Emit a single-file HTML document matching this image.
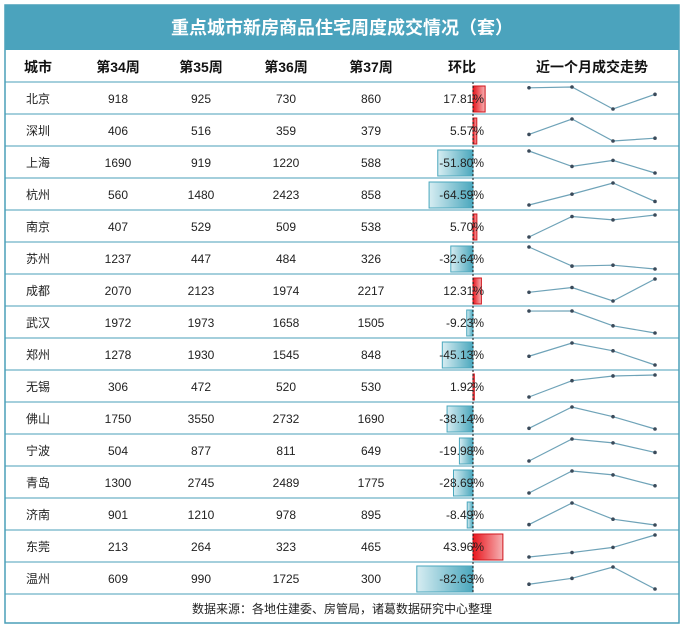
<!DOCTYPE html>
<html><head><meta charset="utf-8">
<style>
body{margin:0;width:685px;height:628px;background:#fff;font-family:"Liberation Sans","Noto Sans CJK SC",sans-serif;}
svg text{font-family:"Liberation Sans","Noto Sans CJK SC",sans-serif;}
</style></head>
<body>
<svg id="c" width="685" height="628" xmlns="http://www.w3.org/2000/svg">
<defs>
<linearGradient id="gr" x1="0" x2="1"><stop offset="0" stop-color="#e8151c"/><stop offset="1" stop-color="#f6b3b5"/></linearGradient>
<linearGradient id="gb" x1="1" x2="0"><stop offset="0" stop-color="#4aa7bd"/><stop offset="1" stop-color="#d7edf2"/></linearGradient>
</defs>
<rect x="5" y="5" width="674" height="618" fill="#fff" stroke="#4a9fb8" stroke-width="1.5"/>
<rect x="5" y="5" width="674" height="45" fill="#4ba3bd"/>
<text x="342" y="34" text-anchor="middle" fill="#fff" font-size="18" font-weight="bold">重点城市新房商品住宅周度成交情况（套）</text>
<g id="hdr" font-size="14" font-weight="bold" fill="#111" text-anchor="middle"></g>
<g id="rows"></g>
<text x="342" y="613" text-anchor="middle" font-size="12" fill="#222">数据来源：各地住建委、房管局，诸葛数据研究中心整理</text>
</svg>
<script>
const cities=["北京","深圳","上海","杭州","南京","苏州","成都","武汉","郑州","无锡","佛山","宁波","青岛","济南","东莞","温州"];
const w34=[918,406,1690,560,407,1237,2070,1972,1278,306,1750,504,1300,901,213,609];
const w35=[925,516,919,1480,529,447,2123,1973,1930,472,3550,877,2745,1210,264,990];
const w36=[730,359,1220,2423,509,484,1974,1658,1545,520,2732,811,2489,978,323,1725];
const w37=[860,379,588,858,538,326,2217,1505,848,530,1690,649,1775,895,465,300];
const changes=[17.81,5.57,-51.80,-64.59,5.70,-32.64,12.31,-9.23,-45.13,1.92,-38.14,-19.98,-28.69,-8.49,43.96,-82.63];
const headers=["城市","第34周","第35周","第36周","第37周","环比","近一个月成交走势"];
const NS="http://www.w3.org/2000/svg";
function mk(t,a,p){const e=document.createElementNS(NS,t);for(const k in a)e.setAttribute(k,a[k]);p.appendChild(e);return e;}
const hx=[38,118,201,286,371,462,592];
const hdr=document.getElementById('hdr');
headers.forEach((h,i)=>{const t=mk('text',{x:hx[i],y:72},hdr);t.textContent=h;

});
const g=document.getElementById('rows');
const top0=82,rh=32,axisX=473,pxPer=0.68;
const sx=[529,572,613,655];
mk('line',{x1:5,x2:679,y1:top0,y2:top0,stroke:'#4a9fb8','stroke-width':1},g);
cities.forEach((c,i)=>{
 const y=top0+i*rh, cy=y+21;
 const row=mk('g',{},g);
 
 
 const vals=[c,w34[i],w35[i],w36[i],w37[i]];
 vals.forEach((v,j)=>{const t=mk('text',{x:hx[j],y:cy,'text-anchor':'middle','font-size':12,fill:'#222'},row);t.textContent=v;
  
  });
 const ch=changes[i], w=Math.abs(ch)*pxPer;
 const b=mk('rect',{x:ch>=0?axisX:axisX-w,y:y+4,width:w,height:26,fill:ch>=0?'url(#gr)':'url(#gb)',stroke:ch>=0?'#d0141b':'#4aa7bd','stroke-width':1},row);
 
 
 const t=mk('text',{x:484,y:cy,'text-anchor':'end','font-size':12,fill:'#222'},row);t.textContent=ch.toFixed(2)+'%';
 
 
 const s=[w34[i],w35[i],w36[i],w37[i]];const mn=Math.min(...s),mx=Math.max(...s);
 const yy=v=>y+5+(mx-v)/(mx-mn||1)*(rh-10);
 const pts=s.map((v,k)=>sx[k]+','+yy(v)).join(' ');
 const pl=mk('polyline',{points:pts,fill:'none',stroke:'#6fa3b8','stroke-width':1.2},row);
 
 
 s.forEach((v,k)=>{const d=mk('circle',{cx:sx[k],cy:yy(v),r:1.8,fill:'#3a4a5a'},row);
  
  });
 mk('line',{x1:5,x2:679,y1:y+rh,y2:y+rh,stroke:'#4a9fb8','stroke-width':1},g);
});
mk('line',{x1:axisX,x2:axisX,y1:top0,y2:top0+16*rh,stroke:'#111','stroke-width':1,'stroke-dasharray':'2,2'},g);
</script>
</body></html>
